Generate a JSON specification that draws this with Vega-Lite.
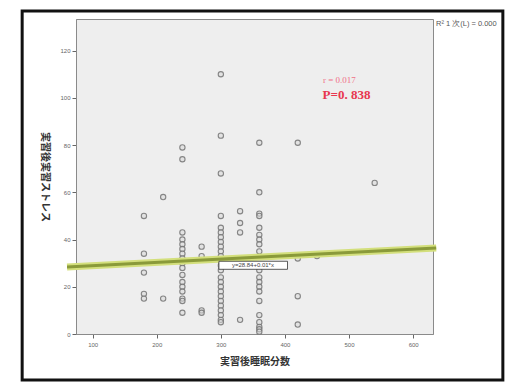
{
  "$schema": "https://vega.github.io/schema/vega-lite/v6.json",
  "width": 357,
  "height": 315,
  "autosize": {"type": "none"},
  "padding": {"left": 76, "top": 19, "right": 74, "bottom": 56},
  "background": "white",
  "config": {
    "view": {"fill": "#eeeeee", "stroke": "#8a8a8a", "strokeWidth": 1},
    "font": "Liberation Sans",
    "axis": {
      "grid": false,
      "labelFontSize": 6,
      "labelColor": "#666666",
      "tickColor": "#666666",
      "tickSize": 4,
      "domainColor": "#8a8a8a",
      "titleFont": "Noto Sans CJK JP",
      "titleFontSize": 10,
      "titleFontWeight": "bold",
      "titleColor": "#333333"
    }
  },
  "datasets": {
    "pts": [
      {"x": 180, "y": 50}, {"x": 180, "y": 34}, {"x": 180, "y": 26}, {"x": 180, "y": 17}, {"x": 180, "y": 15},
      {"x": 210, "y": 58}, {"x": 210, "y": 15},
      {"x": 240, "y": 79}, {"x": 240, "y": 74}, {"x": 240, "y": 43}, {"x": 240, "y": 40}, {"x": 240, "y": 38}, {"x": 240, "y": 36}, {"x": 240, "y": 34}, {"x": 240, "y": 32}, {"x": 240, "y": 30}, {"x": 240, "y": 28}, {"x": 240, "y": 25}, {"x": 240, "y": 22}, {"x": 240, "y": 20}, {"x": 240, "y": 18}, {"x": 240, "y": 15}, {"x": 240, "y": 14}, {"x": 240, "y": 9},
      {"x": 270, "y": 37}, {"x": 270, "y": 33}, {"x": 270, "y": 10}, {"x": 270, "y": 9},
      {"x": 300, "y": 110}, {"x": 300, "y": 84}, {"x": 300, "y": 68}, {"x": 300, "y": 50}, {"x": 300, "y": 45}, {"x": 300, "y": 43}, {"x": 300, "y": 41}, {"x": 300, "y": 39}, {"x": 300, "y": 37}, {"x": 300, "y": 35}, {"x": 300, "y": 33}, {"x": 300, "y": 31}, {"x": 300, "y": 29}, {"x": 300, "y": 27}, {"x": 300, "y": 24}, {"x": 300, "y": 22}, {"x": 300, "y": 20}, {"x": 300, "y": 18}, {"x": 300, "y": 16}, {"x": 300, "y": 14}, {"x": 300, "y": 12}, {"x": 300, "y": 10}, {"x": 300, "y": 8}, {"x": 300, "y": 6}, {"x": 300, "y": 5},
      {"x": 330, "y": 52}, {"x": 330, "y": 47}, {"x": 330, "y": 43}, {"x": 330, "y": 6},
      {"x": 360, "y": 81}, {"x": 360, "y": 60}, {"x": 360, "y": 51}, {"x": 360, "y": 50}, {"x": 360, "y": 45}, {"x": 360, "y": 42}, {"x": 360, "y": 40}, {"x": 360, "y": 38}, {"x": 360, "y": 35}, {"x": 360, "y": 29}, {"x": 360, "y": 27}, {"x": 360, "y": 24}, {"x": 360, "y": 22}, {"x": 360, "y": 20}, {"x": 360, "y": 18}, {"x": 360, "y": 14}, {"x": 360, "y": 8}, {"x": 360, "y": 5}, {"x": 360, "y": 3}, {"x": 360, "y": 2}, {"x": 360, "y": 1},
      {"x": 420, "y": 81}, {"x": 420, "y": 32}, {"x": 420, "y": 16}, {"x": 420, "y": 4},
      {"x": 450, "y": 33},
      {"x": 540, "y": 64}
    ],
    "fit": [{"x": 60, "y": 28.4}, {"x": 636, "y": 36.4}],
    "frame": [{"x": -10, "x2": 740, "y": -19.5, "y2": 136.8}],
    "box": [{"x": 297, "x2": 404, "y": 27.4, "y2": 30.8, "label": "y=28.84+0.01*x", "xc": 350, "yc": 29.1}],
    "rnote": [{"x": 485, "y": 107.6, "label": "r = 0.017"}],
    "pnote": [{"x": 496, "y": 101.2, "label": "P=0. 838"}],
    "rsq": [{"x": 683, "y": 131.3, "label": "R² 1 次(L) = 0.000"}]
  },
  "encoding": {
    "x": {
      "field": "x", "type": "quantitative",
      "scale": {"domain": [74, 631], "nice": false, "zero": false},
      "axis": {"values": [100, 200, 300, 400, 500, 600], "title": "実習後睡眠分数", "titlePadding": 9, "labelPadding": 3},
      "title": "実習後睡眠分数"
    },
    "y": {
      "field": "y", "type": "quantitative",
      "scale": {"domain": [0, 133.4], "nice": false, "zero": false},
      "axis": {"values": [0, 20, 40, 60, 80, 100, 120], "title": "実習後実習ストレス", "titleAngle": 90, "titlePadding": 20, "labelPadding": 2},
      "title": "実習後実習ストレス"
    }
  },
  "layer": [
    {
      "data": {"name": "frame"},
      "mark": {"type": "rect", "fill": null, "fillOpacity": 0, "stroke": "#111111", "strokeWidth": 3, "clip": false},
      "encoding": {
        "x2": {"field": "x2"},
        "y2": {"field": "y2"}
      }
    },
    {
      "data": {"name": "pts"},
      "mark": {"type": "point", "shape": "circle", "filled": false, "fill": "#d8d8d8", "fillOpacity": 0.6, "stroke": "#7a7a7a", "strokeWidth": 1.1, "size": 28, "opacity": 0.9},
      "encoding": {}
    },
    {
      "data": {"name": "fit"},
      "mark": {"type": "line", "color": "#d3df7c", "strokeWidth": 7, "clip": false},
      "encoding": {}
    },
    {
      "data": {"name": "fit"},
      "mark": {"type": "line", "color": "#8a9a3a", "strokeWidth": 3, "clip": false},
      "encoding": {}
    },
    {
      "data": {"name": "box"},
      "mark": {"type": "rect", "fill": "white", "stroke": "#333333", "strokeWidth": 0.8},
      "encoding": {
        "x2": {"field": "x2"},
        "y2": {"field": "y2"}
      }
    },
    {
      "data": {"name": "box"},
      "mark": {"type": "text", "fontSize": 6, "color": "#444444", "align": "center", "baseline": "middle"},
      "encoding": {
        "x": {"field": "xc", "type": "quantitative"},
        "y": {"field": "yc", "type": "quantitative"},
        "text": {"field": "label"}
      }
    },
    {
      "data": {"name": "rnote"},
      "mark": {"type": "text", "font": "Liberation Serif", "fontSize": 9, "color": "#f07088", "align": "center", "baseline": "middle"},
      "encoding": {"text": {"field": "label"}}
    },
    {
      "data": {"name": "pnote"},
      "mark": {"type": "text", "font": "Liberation Serif", "fontSize": 13, "fontWeight": "bold", "color": "#e8364f", "align": "center", "baseline": "middle"},
      "encoding": {"text": {"field": "label"}}
    },
    {
      "data": {"name": "rsq"},
      "mark": {"type": "text", "fontSize": 7.5, "color": "#555555", "align": "center", "baseline": "middle", "clip": false},
      "encoding": {"text": {"field": "label"}}
    }
  ]
}
